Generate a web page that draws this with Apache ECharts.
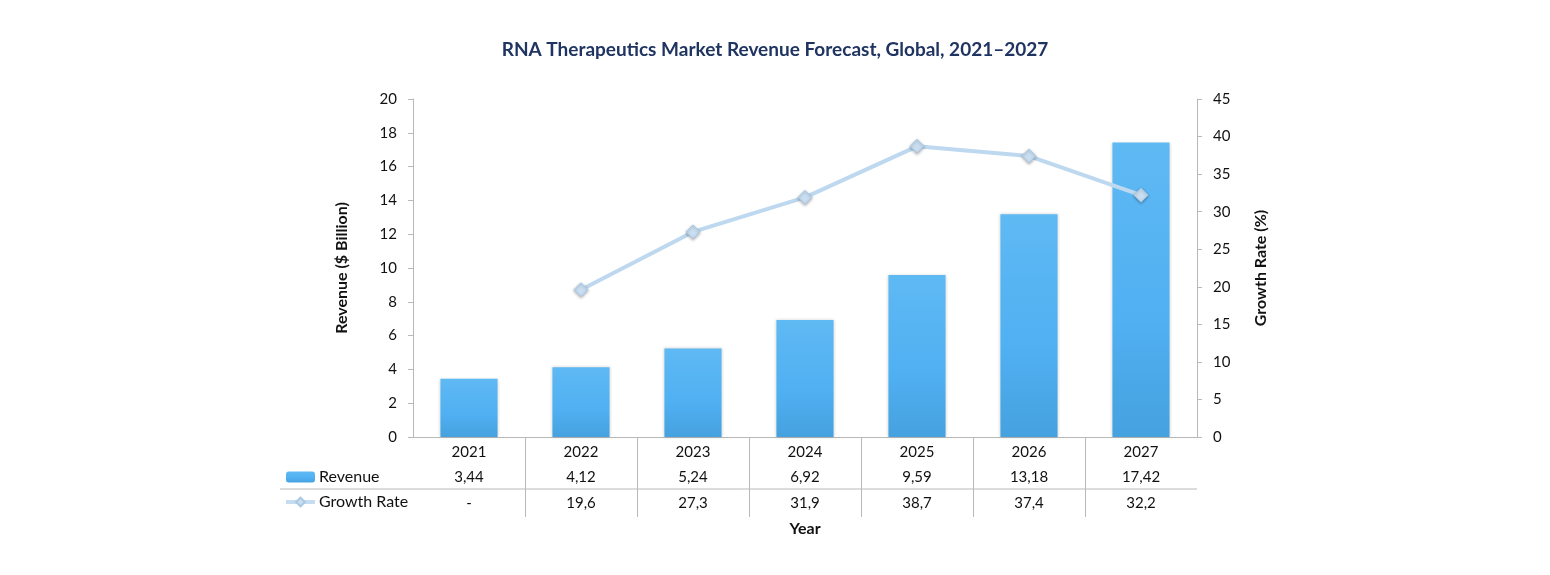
<!DOCTYPE html>
<html>
<head>
<meta charset="utf-8">
<title>RNA Therapeutics Market Revenue Forecast</title>
<script src="https://cdn.jsdelivr.net/npm/echarts@6/dist/echarts.min.js"></script>
<style>
  html, body { margin: 0; padding: 0; background: #fff; }
  #chart { width: 1550px; height: 575px; }
</style>
</head>
<body>
<div id="chart"></div>
<script>
// data
var years = ['2021', '2022', '2023', '2024', '2025', '2026', '2027']
var revenue = [3.44, 4.12, 5.24, 6.92, 9.59, 13.18, 17.42]
var growth = ['-', 19.6, 27.3, 31.9, 38.7, 37.4, 32.2]
var leftTicks = { min: 0, max: 20, interval: 2 }
var rightTicks = { min: 0, max: 45, interval: 5 }

// table row labels, comma as decimal sign
var revenueLabels = revenue.map(function (v) { return v.toFixed(2).replace('.', ',') })
var growthLabels = growth.map(function (v) { return v === '-' ? '-' : v.toFixed(1).replace('.', ',') })
// band boundaries (one more than categories), used for the table's vertical rules
var boundaries = years.concat(['']).map(function () { return '' })

var font = 'Lato, "Open Sans", sans-serif'
var axisGrey = '#b8b8b8'

var gridLeft = 413
var gridRight = 1550 - 1197
var gridTop = 99
var gridBottom = 575 - 437

var chart = echarts.init(document.getElementById('chart'))
var option = {
  backgroundColor: '#fff',
  textStyle: { fontFamily: font },
  title: {
    text: 'RNA Therapeutics Market Revenue Forecast, Global, 2021\u20132027',
    left: 'center',
    top: 35,
    textStyle: { fontFamily: font, fontSize: 19, fontWeight: 'bold', color: '#1f3461' },
  },
  legend: {
    orient: 'vertical',
    left: 279,
    top: 464,
    itemWidth: 29,
    itemHeight: 11,
    itemGap: 9,
    textStyle: { fontFamily: font, fontSize: 16, color: '#111', padding: [0, 0, 0, -1] },
    data: [
      { name: 'Revenue' },
      { name: 'Growth Rate', lineStyle: { width: 4, color: '#c6ddf1' } },
    ],
  },
  grid: {
    left: gridLeft,
    right: gridRight,
    top: gridTop,
    bottom: gridBottom,
  },
  xAxis: [
    {
      // years row + "Year" title
      type: 'category',
      data: years,
      position: 'bottom',
      name: 'Year',
      nameLocation: 'middle',
      nameGap: 84,
      nameTextStyle: { fontFamily: font, fontSize: 16, fontWeight: 'bold', color: '#111' },
      axisLine: { lineStyle: { color: axisGrey, width: 1 } },
      axisTick: { show: false },
      axisLabel: { color: '#111', fontSize: 15, margin: 8 },
    },
    {
      // revenue row
      type: 'category',
      data: revenueLabels,
      position: 'bottom',
      offset: 26,
      axisLine: { show: false },
      axisTick: { show: false },
      axisLabel: { color: '#111', fontSize: 15, margin: 7 },
    },
    {
      // growth rate row
      type: 'category',
      data: growthLabels,
      position: 'bottom',
      offset: 52,
      axisLine: { show: false },
      axisTick: { show: false },
      axisLabel: { color: '#111', fontSize: 15, margin: 7 },
    },
    {
      // vertical table rules at inner band boundaries
      type: 'category',
      data: boundaries,
      boundaryGap: false,
      position: 'bottom',
      axisLine: { show: false },
      axisLabel: { show: false },
      axisTick: {
        show: true,
        length: 80,
        interval: function (i) { return i > 0 && i < years.length },
        lineStyle: { color: axisGrey, width: 1 },
      },
    },
  ],
  yAxis: [
    {
      type: 'value',
      min: leftTicks.min,
      max: leftTicks.max,
      interval: leftTicks.interval,
      name: 'Revenue ($ Billion)',
      nameLocation: 'middle',
      nameGap: 63,
      nameTextStyle: { fontFamily: font, fontSize: 16, fontWeight: 'bold', color: '#111' },
      axisLine: { show: true, lineStyle: { color: axisGrey } },
      axisTick: { show: true, length: 5, lineStyle: { color: axisGrey } },
      axisLabel: { color: '#111', fontSize: 15, margin: 16 },
      splitLine: { show: false },
    },
    {
      type: 'value',
      min: rightTicks.min,
      max: rightTicks.max,
      interval: rightTicks.interval,
      position: 'right',
      name: 'Growth Rate (%)',
      nameLocation: 'middle',
      nameGap: 56,
      nameRotate: 90,
      nameTextStyle: { fontFamily: font, fontSize: 16, fontWeight: 'bold', color: '#111' },
      axisLine: { show: true, lineStyle: { color: axisGrey } },
      axisTick: { show: true, length: 5, lineStyle: { color: axisGrey } },
      axisLabel: { color: '#111', fontSize: 15, margin: 16 },
      splitLine: { show: false },
    },
  ],
  graphic: [
    {
      // horizontal rule between the two table rows
      type: 'line',
      shape: { x1: 280, y1: 489, x2: 1550 - gridRight, y2: 489 },
      style: { stroke: axisGrey, lineWidth: 1 },
      silent: true,
    },
  ],
  series: [
    {
      name: 'Revenue',
      type: 'bar',
      xAxisIndex: 0,
      yAxisIndex: 0,
      barWidth: '51%',
      data: revenue,
      itemStyle: {
        color: new echarts.graphic.LinearGradient(0, 0, 0, 1, [
          { offset: 0, color: '#5fb9f3' },
          { offset: 0.6, color: '#50b0f2' },
          { offset: 1, color: '#46a1df' },
        ]),
        shadowColor: 'rgba(0,0,0,0.18)',
        shadowBlur: 3,
      },
    },
    {
      name: 'Growth Rate',
      type: 'line',
      xAxisIndex: 0,
      yAxisIndex: 1,
      data: growth,
      z: 5,
      symbol: 'diamond',
      symbolSize: 14,
      lineStyle: { color: '#bdd8ef', width: 4 },
      itemStyle: {
        color: '#c9def1',
        borderColor: '#aac8e4',
        borderWidth: 1,
        shadowColor: 'rgba(0,0,0,0.3)',
        shadowBlur: 3,
        shadowOffsetY: 1,
      },
    },
  ],
}
chart.setOption(option)

window.addEventListener('resize', function () {
  chart.resize()
})
</script>
</body>
</html>
